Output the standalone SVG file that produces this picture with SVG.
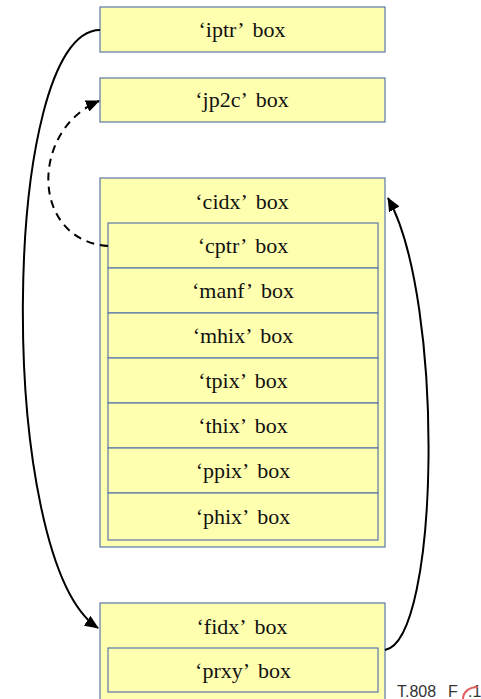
<svg xmlns="http://www.w3.org/2000/svg" width="481" height="699" viewBox="0 0 481 699">
  <style>
    .box { fill: #ffffb0; stroke: #5b78a8; stroke-width: 1.2; }
    .lbl { font-family: "Liberation Serif", "Times New Roman", serif; font-size: 22px; word-spacing: 4px; fill: #111; text-anchor: middle; }
    .link { fill: none; stroke: #000; stroke-width: 2; }
    .dash { stroke-dasharray: 8 6; }
    .foot { font-family: "Liberation Sans", Arial, sans-serif; font-size: 16px; fill: #333; }
  </style>
  <defs>
    <marker id="arrow" viewBox="0 0 14 12" refX="13" refY="6" markerWidth="14" markerHeight="12" markerUnits="userSpaceOnUse" orient="auto">
      <path d="M0,0 L14,6 L0,12 z" fill="#000"/>
    </marker>
  </defs>

  <g id="iptr">
    <rect class="box" x="100" y="7" width="285" height="45"/>
    <text class="lbl" x="242" y="37">‘iptr’ box</text>
  </g>

  <g id="jp2c">
    <rect class="box" x="100" y="78" width="285" height="44"/>
    <text class="lbl" x="242" y="107">‘jp2c’ box</text>
  </g>

  <g id="cidx">
    <rect class="box" x="100" y="178" width="285" height="369"/>
    <text class="lbl" x="242" y="209">‘cidx’ box</text>
    <g id="cptr">
      <rect class="box" x="108" y="223" width="270" height="45"/>
      <text class="lbl" x="243" y="253">‘cptr’ box</text>
    </g>
    <g id="manf">
      <rect class="box" x="108" y="268" width="270" height="45"/>
      <text class="lbl" x="243" y="298">‘manf’ box</text>
    </g>
    <g id="mhix">
      <rect class="box" x="108" y="313" width="270" height="45"/>
      <text class="lbl" x="243" y="343">‘mhix’ box</text>
    </g>
    <g id="tpix">
      <rect class="box" x="108" y="358" width="270" height="45"/>
      <text class="lbl" x="243" y="388">‘tpix’ box</text>
    </g>
    <g id="thix">
      <rect class="box" x="108" y="403" width="270" height="45"/>
      <text class="lbl" x="243" y="433">‘thix’ box</text>
    </g>
    <g id="ppix">
      <rect class="box" x="108" y="448" width="270" height="45"/>
      <text class="lbl" x="243" y="478">‘ppix’ box</text>
    </g>
    <g id="phix">
      <rect class="box" x="108" y="493" width="270" height="47"/>
      <text class="lbl" x="243" y="524">‘phix’ box</text>
    </g>
  </g>

  <g id="fidx">
    <rect class="box" x="100" y="603" width="285" height="110"/>
    <text class="lbl" x="242" y="634">‘fidx’ box</text>
    <g id="prxy">
      <rect class="box" x="108" y="648" width="270" height="44"/>
      <text class="lbl" x="243" y="678">‘prxy’ box</text>
    </g>
  </g>

  <g id="connectors">
    <path class="link" d="M100,30 C0,30 -5,560 98,628" marker-end="url(#arrow)"/>
    <path class="link dash" d="M108,246 C30,240 30,130 99,101" marker-end="url(#arrow)"/>
    <path class="link" d="M385,650 C440,640 445,300 388,198" marker-end="url(#arrow)"/>
  </g>

  <g id="footer">
    <text class="foot" x="397" y="697">T.808</text>
    <text class="foot" x="448" y="697">F</text>
    <text class="foot" x="468" y="697">.1</text>
    <path d="M463,699 C463,692 469,687 478,687" fill="none" stroke="#e06060" stroke-width="2"/>
  </g>
</svg>
